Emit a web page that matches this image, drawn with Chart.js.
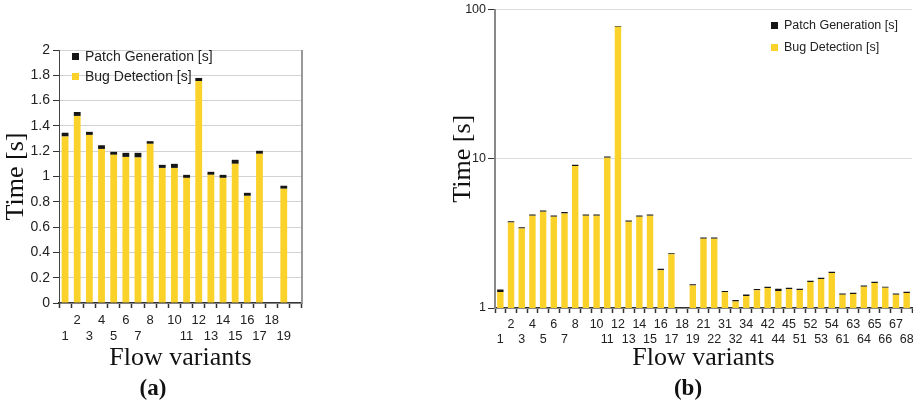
<!DOCTYPE html>
<html>
<head>
<meta charset="utf-8">
<script src="https://cdn.jsdelivr.net/npm/chart.js@4.4.1/dist/chart.umd.min.js"></script>
<style>
html,body{margin:0;padding:0;background:#fff}
body{width:913px;height:408px;position:relative;overflow:hidden;font-family:'Liberation Sans',Arial,sans-serif}
.wrap{position:absolute;top:0;height:408px}
#wa{left:0;width:312px}
#wb{left:445px;width:480px}
.leg{position:absolute;color:#222;white-space:nowrap}
.leg div{display:flex;align-items:center}
.leg i{display:inline-block;width:7px;height:7px;margin-right:6px}
#legA{left:72px;top:46px;font-size:14px}
#legA div{height:20px}
#legB{left:771px;top:14px;font-size:12.5px}
#legB div{height:22px}
.cap{position:absolute;top:374px;width:60px;text-align:center;font-family:'Liberation Serif',serif;font-weight:bold;font-size:23px;line-height:28px;color:#111}
</style>
</head>
<body>
<div class="wrap" id="wa"><canvas id="chartA"></canvas></div>
<div class="wrap" id="wb"><canvas id="chartB"></canvas></div>
<div class="leg" id="legA"></div>
<div class="leg" id="legB"></div>
<div class="cap" style="left:123px">(a)</div>
<div class="cap" style="left:658px">(b)</div>
<script>
// ===== DATA =====
const seriesNames=['Patch Generation [s]','Bug Detection [s]'];
const hiddenLabels=['9'];

// (a) linear
const flowA=['1','2','3','4','5','6','7','8','9','10','11','12','13','14','15','16','17','18','19',''];
const bugA=[1.316,1.479,1.329,1.218,1.171,1.155,1.150,1.258,1.068,1.068,0.989,1.755,1.013,0.989,1.100,0.847,1.179,null,0.903,null];
const patchA=[0.030,0.031,0.024,0.029,0.024,0.032,0.037,0.021,0.024,0.032,0.024,0.024,0.024,0.024,0.032,0.024,0.024,null,0.024,null];
const yTicksA=[0,0.2,0.4,0.6,0.8,1,1.2,1.4,1.6,1.8,2];

// (b) log
const flowB=['1','2','3','4','5','6','7','8','9','10','11','12','13','14','15','16','17','18','19','21','22','31','32','34','41','42','44','45','51','52','53','54','61','63','64','65','66','67','68'];
const bugB=[1.28,3.74,3.41,4.15,4.41,4.09,4.30,8.94,4.15,4.15,10.15,76.6,3.78,4.09,4.15,1.79,2.29,null,1.415,2.91,2.91,1.275,1.105,1.205,1.315,1.36,1.30,1.34,1.32,1.495,1.565,1.715,1.225,1.24,1.39,1.47,1.365,1.225,1.26];
const patchB=[0.05,0.08,0.07,0.08,0.09,0.08,0.09,0.18,0.08,0.08,0.22,0.8,0.08,0.08,0.08,0.04,0.04,null,0.03,0.06,0.06,0.025,0.025,0.025,0.025,0.027,0.045,0.026,0.025,0.025,0.028,0.031,0.025,0.025,0.026,0.028,0.025,0.025,0.025];
const yTicksB=[1,10,100];

// ===== STYLE =====
const YELLOW='#FAD22A',BLACK='#161616',INK='#222',AXIS='#333';
const SERIF="'Liberation Serif','Times New Roman',serif";
Chart.defaults.font.family="'Liberation Sans',Arial,sans-serif";
Chart.defaults.color=INK;
Chart.defaults.animation=false;

// legends (html)
function legend(id){
  const el=document.getElementById(id);
  [BLACK,YELLOW].forEach((c,i)=>{
    const d=document.createElement('div');
    d.innerHTML='<i style="background:'+c+'"></i>'+seriesNames[i];
    el.appendChild(d);
  });
}
legend('legA');legend('legB');

// two-row category labels, alternating
function twoRow(labels){
  return function(v,i){
    const l=labels[i];
    const s=hiddenLabels.includes(l)?'':l;
    return i%2?[s,'']:['',s];
  };
}

// right frame line for (a)
const frameRight={id:'frameRight',afterDraw(c){
  const a=c.chartArea,ctx=c.ctx;
  ctx.save();ctx.strokeStyle='#999';ctx.lineWidth=2;
  ctx.beginPath();ctx.moveTo(a.right,a.top);ctx.lineTo(a.right,a.bottom);ctx.stroke();
  ctx.restore();
}};

function datasets(bug,patch,bp){
  return [
    {label:seriesNames[1],data:bug,backgroundColor:YELLOW,barPercentage:bp,categoryPercentage:1},
    {label:seriesNames[0],data:patch,backgroundColor:BLACK,barPercentage:bp,categoryPercentage:1}
  ];
}

function xAxis(labels,h,pad,fs){
  return {stacked:true,
    grid:{offset:true,drawOnChartArea:false,drawTicks:true,tickLength:5,tickColor:AXIS,tickWidth:1.5},
    border:{color:AXIS,width:1.5},
    ticks:{autoSkip:false,maxRotation:0,minRotation:0,padding:pad,font:{size:fs,lineHeight:1.2},color:INK,callback:twoRow(labels)},
    title:{display:true,text:'Flow variants',font:{family:SERIF,size:26,lineHeight:1.2},color:'#111',padding:{top:0,bottom:34}},
    afterFit(s){s.height=h;}
  };
}

// ===== CHART (a) =====
new Chart(document.getElementById('chartA'),{type:'bar',
  data:{labels:flowA,datasets:datasets(bugA,patchA,0.56)},
  options:{responsive:true,maintainAspectRatio:false,
    layout:{padding:{top:50,right:10,left:0,bottom:0}},
    plugins:{legend:{display:false},tooltip:{enabled:false}},
    scales:{
      x:xAxis(flowA,105,5,13),
      y:{stacked:true,min:0,max:2,
        afterBuildTicks(s){s.ticks=yTicksA.map(v=>({value:v}));},
        grid:{color:'#d2d2d2',tickColor:AXIS,tickLength:6},
        border:{color:'#444',width:1},
        ticks:{padding:3,font:{size:14},color:INK,callback:v=>String(Math.round(v*10)/10)},
        title:{display:true,text:'Time [s]',font:{family:SERIF,size:26,lineHeight:1.2},color:'#111',padding:{top:1,bottom:0}},
        afterFit(s){s.width=59;}
      }
    }},
  plugins:[frameRight]
});

// ===== CHART (b) =====
new Chart(document.getElementById('chartB'),{type:'bar',
  data:{labels:flowB,datasets:datasets(bugB,patchB,0.6)},
  options:{responsive:true,maintainAspectRatio:false,
    layout:{padding:{top:8,right:13,left:0,bottom:0}},
    plugins:{legend:{display:false},tooltip:{enabled:false}},
    scales:{
      x:xAxis(flowB,100,4,12.5),
      y:{type:'logarithmic',stacked:true,min:1,max:100,
        afterBuildTicks(s){s.ticks=yTicksB.map(v=>({value:v}));},
        grid:{color:'#dcdcdc',tickColor:AXIS,tickLength:7},
        border:{color:'#888',width:2},
        ticks:{padding:2,font:{size:12.5},color:INK,callback:v=>String(v)},
        title:{display:true,text:'Time [s]',font:{family:SERIF,size:26,lineHeight:1.2},color:'#111',padding:{top:3,bottom:0}},
        afterFit(s){s.width=50;}
      }
    }}
});
</script>
</body>
</html>
